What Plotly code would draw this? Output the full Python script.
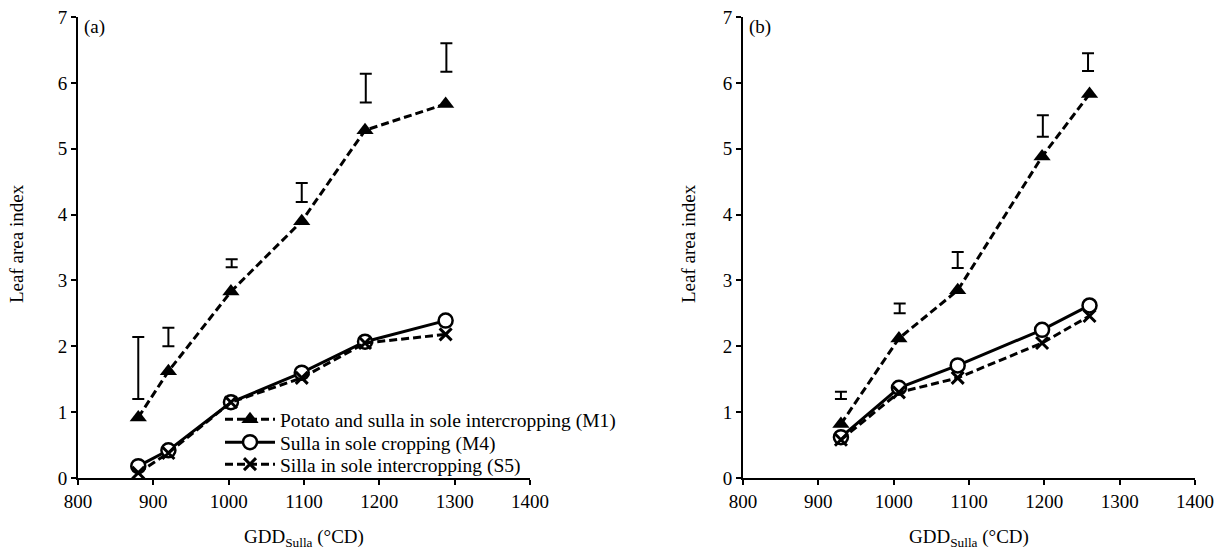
import plotly.graph_objects as go

# ---- Panel (a) data ----
gdd_a = [880, 920, 1003, 1097, 1181, 1288]
lai_m1_a = [0.92, 1.62, 2.83, 3.90, 5.28, 5.68]
lai_m4_a = [0.18, 0.42, 1.15, 1.60, 2.07, 2.39]
lai_s5_a = [0.08, 0.38, 1.15, 1.52, 2.05, 2.18]
lsd_x_a = [880, 920, 1004, 1097, 1182, 1289]
lsd_low_a = [1.20, 2.00, 3.20, 4.19, 5.70, 6.17]
lsd_high_a = [2.14, 2.28, 3.32, 4.48, 6.14, 6.60]

# ---- Panel (b) data ----
gdd_b = [930, 1007, 1085, 1197, 1260]
lai_m1_b = [0.82, 2.12, 2.85, 4.88, 5.83]
lai_m4_b = [0.62, 1.37, 1.71, 2.25, 2.62]
lai_s5_b = [0.58, 1.30, 1.52, 2.05, 2.46]
lsd_x_b = [930, 1008, 1085, 1198, 1258]
lsd_low_b = [1.20, 2.50, 3.19, 5.18, 6.18]
lsd_high_b = [1.31, 2.65, 3.43, 5.51, 6.45]

names = [
    "Potato and sulla in sole intercropping (M1)",
    "Sulla in sole cropping (M4)",
    "Silla in sole intercropping (S5)",
]
x_ticks = [800, 900, 1000, 1100, 1200, 1300, 1400]
y_ticks = [0, 1, 2, 3, 4, 5, 6, 7]

FONT = "Liberation Serif, Times New Roman, serif"
DASH = "8px,4px"

fig = go.Figure()


def add_panel(xs, m1, m4, s5, lx, lo, hi, xa, ya, legend):
    # sulla in sole cropping: solid line, open circles
    fig.add_trace(go.Scatter(
        x=xs, y=m4, xaxis=xa, yaxis=ya, mode="lines+markers", name=names[1],
        line=dict(color="black", width=3),
        marker=dict(symbol="circle", size=14, color="white",
                    line=dict(color="black", width=2.5)),
        showlegend=legend, legend="legend2"))
    # sulla in intercropping: dashed line, crosses
    fig.add_trace(go.Scatter(
        x=xs, y=s5, xaxis=xa, yaxis=ya, mode="lines+markers", name=names[2],
        line=dict(color="black", width=3, dash=DASH),
        marker=dict(symbol="x-thin", size=12, color="black",
                    line=dict(color="black", width=3)),
        showlegend=legend, legend="legend3"))
    # potato + sulla intercropping: dashed line, filled triangles
    fig.add_trace(go.Scatter(
        x=xs, y=m1, xaxis=xa, yaxis=ya, mode="lines+markers", name=names[0],
        line=dict(color="black", width=3, dash=DASH),
        marker=dict(symbol="triangle-up", size=15, color="black"),
        showlegend=legend, legend="legend"))
    # LSD bars drawn as floating error bars
    mid = [(a + b) / 2 for a, b in zip(lo, hi)]
    half = [(b - a) / 2 for a, b in zip(lo, hi)]
    fig.add_trace(go.Scatter(
        x=lx, y=mid, xaxis=xa, yaxis=ya, mode="markers",
        marker=dict(size=1, color="rgba(0,0,0,0)"),
        error_y=dict(type="data", array=half, symmetric=True,
                     color="black", thickness=2, width=6),
        showlegend=False, hoverinfo="skip"))


add_panel(gdd_a, lai_m1_a, lai_m4_a, lai_s5_a, lsd_x_a, lsd_low_a, lsd_high_a,
          "x", "y", True)
add_panel(gdd_b, lai_m1_b, lai_m4_b, lai_s5_b, lsd_x_b, lsd_low_b, lsd_high_b,
          "x2", "y2", False)

axis_common = dict(
    showgrid=False, zeroline=False, showline=True, linecolor="black",
    linewidth=2, ticks="outside", ticklen=5, tickwidth=1.5, tickcolor="black",
    automargin=False, ticklabeloverflow="allow",
    tickfont=dict(family=FONT, size=19, color="black"),
)
y_dom = [1 - 478 / 552, 1 - 17 / 552]


def legend_box(top_px):
    # one legend row per box so rows can sit closer together
    return dict(x=220 / 1214, y=1 - top_px / 552, xanchor="left",
                yanchor="top", bgcolor="rgba(0,0,0,0)",
                font=dict(family=FONT, size=19.5, color="black"),
                itemwidth=50, tracegroupgap=0)


fig.update_layout(
    width=1214, height=552,
    margin=dict(l=0, r=0, t=0, b=0),
    paper_bgcolor="white", plot_bgcolor="white",
    font=dict(family=FONT, size=18, color="black"),
    xaxis=dict(domain=[78 / 1214, 530 / 1214], range=[800, 1400],
               tickvals=x_ticks, anchor="y", **axis_common),
    yaxis=dict(domain=y_dom, range=[0, 7], tickvals=y_ticks, anchor="x",
               **axis_common),
    xaxis2=dict(domain=[743 / 1214, 1195 / 1214], range=[800, 1400],
                tickvals=x_ticks, anchor="y2", **axis_common),
    yaxis2=dict(domain=y_dom, range=[0, 7], tickvals=y_ticks, anchor="x2",
                **axis_common),
    legend=legend_box(400),
    legend2=legend_box(423),
    legend3=legend_box(445),
    showlegend=True,
)

annotations = [
    dict(text="(a)", x=82 / 1214, y=1 - 27 / 552),
    dict(text="(b)", x=747 / 1214, y=1 - 27 / 552),
    dict(text="Leaf area index", x=17 / 1214, y=1 - 244 / 552, textangle=-90),
    dict(text="Leaf area index", x=689 / 1214, y=1 - 244 / 552, textangle=-90),
    dict(text="GDD<sub>Sulla</sub> (°CD)", x=304 / 1214, y=1 - 538 / 552),
    dict(text="GDD<sub>Sulla</sub> (°CD)", x=969 / 1214, y=1 - 538 / 552),
]
for a in annotations:
    xanchor = "left" if a["text"].startswith("(") else "center"
    fig.add_annotation(xref="paper", yref="paper", showarrow=False,
                       xanchor=xanchor, yanchor="middle",
                       font=dict(family=FONT, size=19, color="black"), **a)

fig.write_html("out.html")
